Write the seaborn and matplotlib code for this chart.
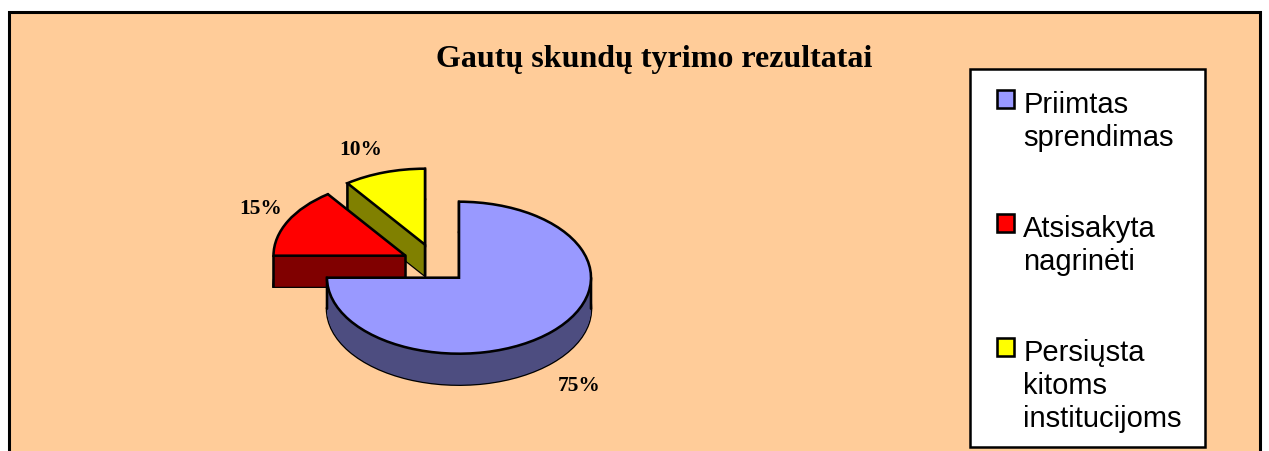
import numpy as np
import seaborn as sns
import matplotlib.pyplot as plt
from matplotlib.patches import Patch, Rectangle

categories = ['Priimtas\nsprendimas', 'Atsisakyta\nnagrinėti', 'Persiųsta\nkitoms\ninstitucijoms']
values = [75, 15, 10]
top_colors = ['#9999FF', '#FF0000', '#FFFF00']
side_colors = ['#4D4D80', '#800000', '#808000']
title = 'Gautų skundų tyrimo rezultatai'

W, H = 1269, 452
# pie geometry in pixels of the reference
CX, CY = 459, 278.7
RX, RY = 132, 76
DEPTH = 31 / RY
LW = 1.85
slice_centers = [(459, 278.7), (405.5, 256.7), (425, 245.7)]
label_pos = [(579, 386), (261, 209), (361, 150)]


def to_data(px, py):
    return (px - CX) / RX, (CY - py) / RY


sns.set_style('white')
plt.rcParams['font.family'] = ['Liberation Sans', 'DejaVu Sans']

fig = plt.figure(figsize=(W / 100, H / 100), dpi=100, facecolor='white')
ax = fig.add_axes([0, 0, 1, 1])

# orange panel, its bottom edge runs off the picture
fig.add_artist(Rectangle((8.5 / W, -10 / H), 1251.5 / W, (H - 12.5 + 10) / H,
                         transform=fig.transFigure, facecolor='#FFCC99',
                         edgecolor='black', linewidth=2.2, zorder=-1))
# white legend box
fig.add_artist(Rectangle((969.5 / W, 1 - 447.5 / H), 235.5 / W, 377.5 / H,
                         transform=fig.transFigure, facecolor='white',
                         edgecolor='black', linewidth=1.8, zorder=-0.5))

# back to front: yellow, red, blue
starts = 90 - 3.6 * np.cumsum([0] + values[:-1])
for i in [2, 1, 0]:
    value = values[i]
    x0, y0 = to_data(*slice_centers[i])
    base = 10 * (3 - i)
    start = starts[i]
    end = start - 3.6 * value

    # side wall: a stack of dark copies of the slice
    ax.pie([value / 100], normalize=False, startangle=start, counterclock=False,
           center=(x0, y0 - DEPTH), colors=[side_colors[i]],
           wedgeprops={'edgecolor': 'black', 'linewidth': LW, 'zorder': base})
    for d in np.linspace(DEPTH, 0, 62, endpoint=False):
        ax.pie([value / 100], normalize=False, startangle=start, counterclock=False,
               center=(x0, y0 - d), colors=[side_colors[i]],
               wedgeprops={'linewidth': 0, 'zorder': base + 1})

    # vertical edges at the corners and at the rim extremes
    angles = [start, end] + [a for a in (0, -180) if end < a < start]
    xs = [x0] + [x0 + np.cos(np.radians(a)) for a in angles]
    ys = [y0] + [y0 + np.sin(np.radians(a)) for a in angles]
    for x, y in zip(xs, ys):
        ax.plot([x, x], [y, y - DEPTH], color='black', linewidth=LW,
                zorder=base + 2, solid_capstyle='round', snap=False)

    # top face
    ax.pie([value / 100], normalize=False, startangle=start, counterclock=False,
           center=(x0, y0), colors=[top_colors[i]],
           wedgeprops={'edgecolor': 'black', 'linewidth': LW, 'zorder': base + 3})

    lx, ly = to_data(*label_pos[i])
    ax.text(lx, ly, f'{value}%', ha='center', va='center', fontsize=15.4,
            fontweight='bold', family='Liberation Serif', color='black')

ax.set_aspect('auto')
ax.set_xlim(-CX / RX, (W - CX) / RX)
ax.set_ylim((CY - H) / RY, CY / RY)
ax.set_axis_off()

ax.text(*to_data(654, 67), title, ha='center', va='baseline', fontsize=23,
        fontweight='bold', family='Liberation Serif', color='black')

handles = [Patch(facecolor=c, edgecolor='black', linewidth=LW) for c in top_colors]
leg = ax.legend(handles, categories, loc='upper left',
                bbox_to_anchor=(997 / W, 1 - 91 / H), bbox_transform=fig.transFigure,
                borderaxespad=0, borderpad=0, fontsize=21, handlelength=0.58,
                handleheight=0.58, handletextpad=0.32, labelspacing=2.17,
                frameon=False, labelcolor='black')
for t in leg.get_texts():
    t.set_linespacing(1.22)
# marker next to the first line of each label, not the last
for col in leg._legend_handle_box.get_children():
    for row in col.get_children():
        row.align = 'top'

fig.savefig('out.png', dpi=100)
